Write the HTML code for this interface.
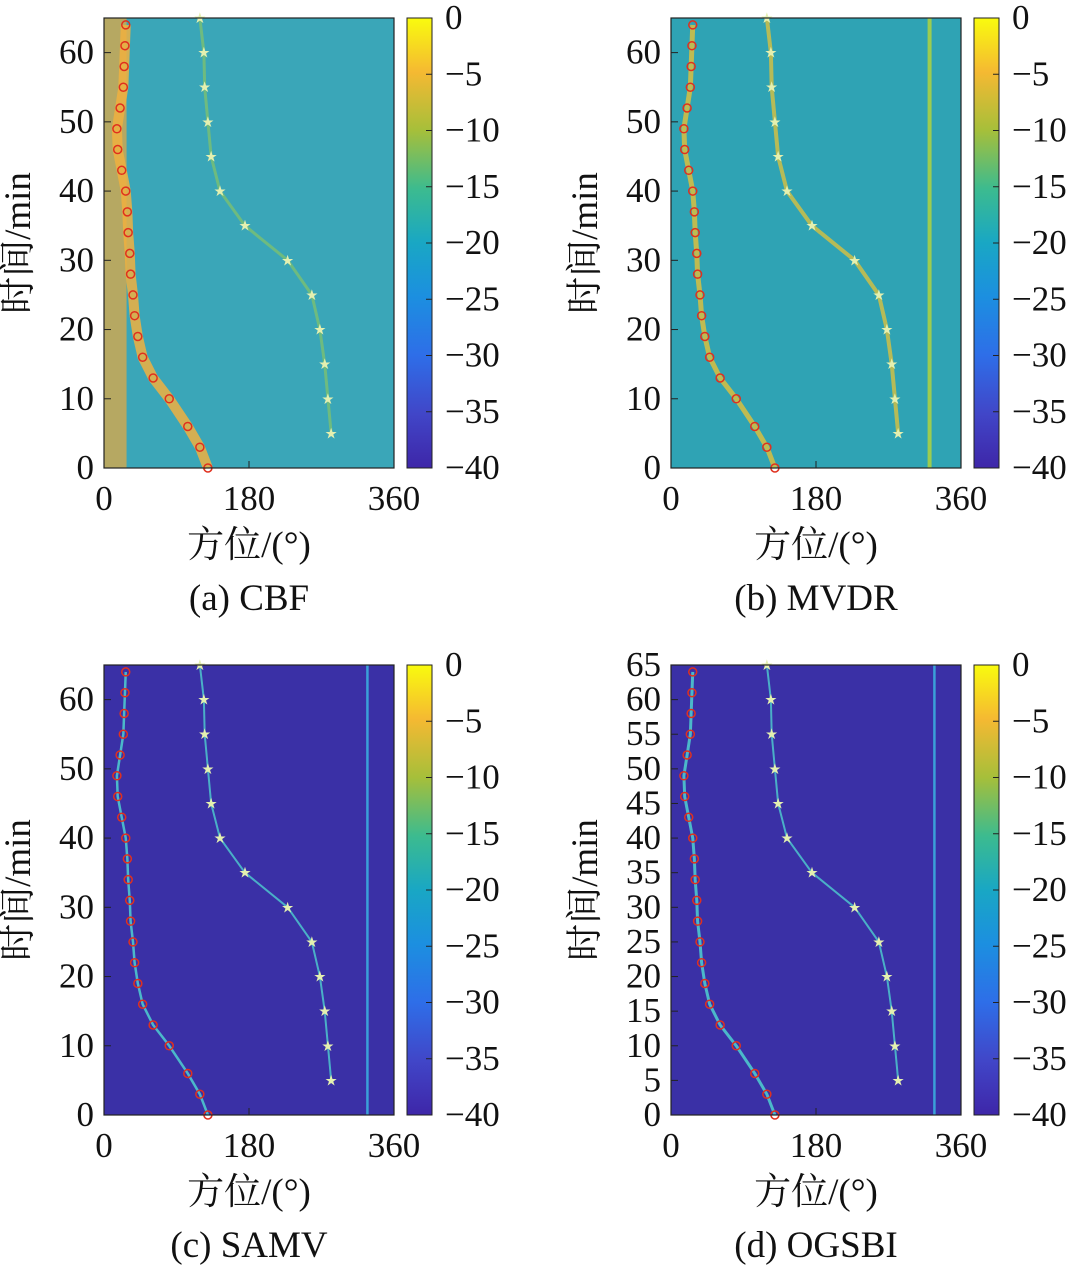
<!DOCTYPE html>
<html><head><meta charset="utf-8"><style>
body{margin:0;background:#fff}
svg text{font-family:"Liberation Serif","Noto Serif CJK SC","Noto Sans CJK SC",serif;fill:#111}
</style></head><body>
<svg id="s" width="1080" height="1268" xmlns="http://www.w3.org/2000/svg">
<defs>
<linearGradient id="parula" x1="0" y1="0" x2="0" y2="1">
<stop offset="0" stop-color="#f9fb0e"/><stop offset="0.12" stop-color="#f5b932"/><stop offset="0.25" stop-color="#a6bf3a"/>
<stop offset="0.38" stop-color="#3cbb8f"/><stop offset="0.5" stop-color="#19a7c4"/><stop offset="0.62" stop-color="#1c8fe0"/>
<stop offset="0.75" stop-color="#2e6ee8"/><stop offset="0.88" stop-color="#4146c8"/><stop offset="1" stop-color="#3e26a8"/>
</linearGradient>
</defs>
</svg>
<script>
const circleTimes=[0,3,6,10,13,16,19,22,25,28,31,34,37,40,43,46,49,52,55,58,61,64];
const circleAz=[129,119,104,81,61,48,42,38,36,33,32,30,29,27,22,17,16,20,24,25,26,27];
const starTimes=[65,60,55,50,45,40,35,30,25,20,15,10,5];
const starAz=[119,124,125,129,133,144,175,228,258,268,274,278,282];
const xTicks=[0,180,360];
const yTicksA=[0,10,20,30,40,50,60];
const yTicksD=[0,5,10,15,20,25,30,35,40,45,50,55,60,65];
const cbTicks=[0,-5,-10,-15,-20,-25,-30,-35,-40];
const panels=[
 {id:'cbf',cap:'(a) CBF',x:104,y:18,bg:'#3aa6b8',tr:'#f0b040',tw:10,yt:yTicksA,vline:null},
 {id:'mvdr',cap:'(b) MVDR',x:671,y:18,bg:'#2fa3b4',tr:'#d8c040',tw:5,yt:yTicksA,vline:321},
 {id:'samv',cap:'(c) SAMV',x:104,y:665,bg:'#3a30a6',tr:'#4fd0d0',tw:2.5,yt:yTicksA,vline:327},
 {id:'ogsbi',cap:'(d) OGSBI',x:671,y:665,bg:'#3a30a6',tr:'#4fd0d0',tw:3,yt:yTicksD,vline:327}
];
const W=290,H=450,NS='http://www.w3.org/2000/svg',svg=document.getElementById('s');
const FS=35;
function mk(t,a,p){const e=document.createElementNS(NS,t);for(const k in a)e.setAttribute(k,a[k]);(p||svg).appendChild(e);return e;}
panels.forEach(P=>{
 const sx=v=>P.x+v/360*W, sy=t=>P.y+H-t/65*H;
 const g=mk('g',{});
 
 
 const bg=mk('rect',{x:P.x,y:P.y,width:W,height:H,fill:P.bg},g);
 
 
 if(P.id==='cbf'){mk('rect',{x:sx(0),y:P.y,width:sx(28)-sx(0),height:H,fill:'#e0a845',opacity:0.75},g);}
 if(P.vline!==null){const v=mk('line',{x1:sx(P.vline),x2:sx(P.vline),y1:P.y,y2:P.y+H,stroke:P.id==='mvdr'?'#9ccc50':'#3aa0d8','stroke-width':P.id==='mvdr'?4:2.5},g);
  
  }
 const cp=circleTimes.map((t,i)=>sx(circleAz[i])+','+sy(t)).join(' ');
 const c1=mk('polyline',{points:cp,fill:'none',stroke:P.tr,'stroke-width':P.tw,opacity:0.85},g);
 
 
 const spt=starTimes.map((t,i)=>sx(starAz[i])+','+sy(t)).join(' ');
 const c2=mk('polyline',{points:spt,fill:'none',stroke:P.id==='cbf'?'#7cc070':P.tr,'stroke-width':P.id==='cbf'?3:Math.max(2,P.tw-1),opacity:0.8},g);
 
 
 circleTimes.forEach((t,i)=>{const c=mk('circle',{cx:sx(circleAz[i]),cy:sy(t),r:4,fill:'none',stroke:'#e0301e','stroke-width':1.5},g);
  
  });
 starTimes.forEach((t,i)=>{const s=mk('text',{x:sx(starAz[i]),y:sy(t)+4,'text-anchor':'middle','font-size':12,style:'fill:#e4f0b0'},g);s.textContent='★';
  
  });
 mk('rect',{x:P.x,y:P.y,width:W,height:H,fill:'none',stroke:'#222','stroke-width':1.2},g);
 xTicks.forEach(v=>{mk('line',{x1:sx(v),x2:sx(v),y1:P.y+H,y2:P.y+H-7,stroke:'#222'},g);
  const t=mk('text',{x:sx(v),y:P.y+H+42,'text-anchor':'middle','font-size':FS},g);t.textContent=v;
  
  });
 P.yt.forEach(v=>{mk('line',{x1:P.x,x2:P.x+7,y1:sy(v),y2:sy(v),stroke:'#222'},g);
  const t=mk('text',{x:P.x-10,y:sy(v)+11,'text-anchor':'end','font-size':FS},g);t.textContent=v;
  
  });
 const cbx=P.x+303;
 const cb=mk('rect',{x:cbx,y:P.y,width:25,height:H,fill:'url(#parula)',stroke:'#222','stroke-width':1},g);
 
 
 cbTicks.forEach(v=>{const yy=P.y+(-v)/40*H;mk('line',{x1:cbx+19,x2:cbx+25,y1:yy,y2:yy,stroke:'#222'},g);
  const t=mk('text',{x:cbx+38,y:yy+11,'font-size':FS},g);t.textContent=v===0?'0':'−'+(-v);
  
  });
 const xt=mk('text',{x:P.x+145,y:P.y+H+89,'text-anchor':'middle','font-size':37},g);xt.textContent='方位/(°)';
 
 
 const yt=mk('text',{x:0,y:0,'text-anchor':'middle','font-size':37,transform:`translate(${P.x-74},${P.y+H/2}) rotate(-90)`},g);yt.textContent='时间/min';
 
 
 const cap=mk('text',{x:P.x+145,y:P.y+H+142,'text-anchor':'middle','font-size':37},g);cap.textContent=P.cap;
 
 
});
</script>
</body></html>
